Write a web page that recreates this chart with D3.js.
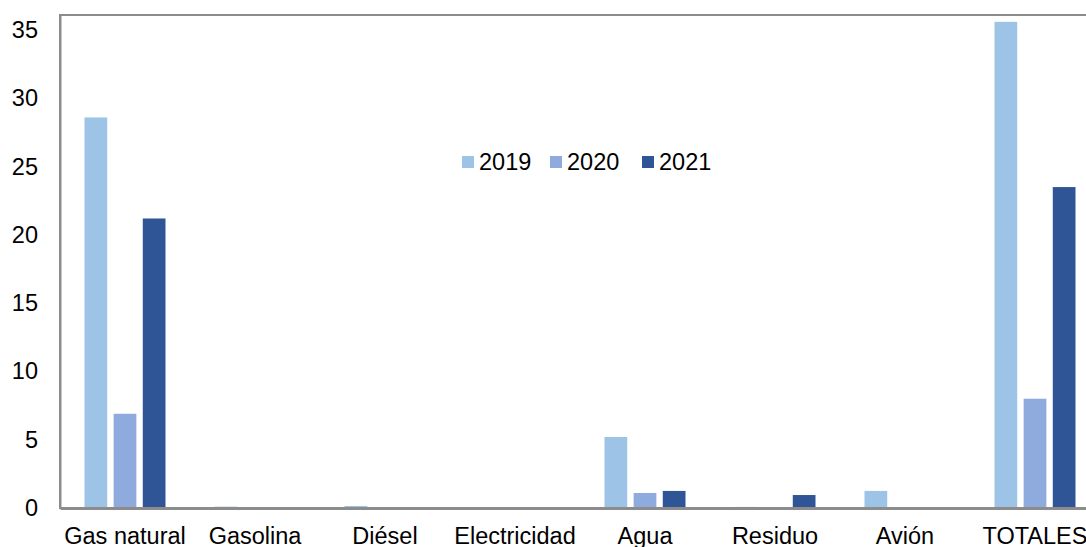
<!DOCTYPE html>
<html><head><meta charset="utf-8">
<script src="https://cdn.jsdelivr.net/npm/d3@7"></script>
<style>html,body{margin:0;padding:0;background:#fff;overflow:hidden}</style>
</head><body>
<svg id="chart" width="1086" height="547"></svg>
<script>
const categories = ["Gas natural","Gasolina","Diésel","Electricidad","Agua","Residuo","Avión","TOTALES"];
const seriesNames = ["2019","2020","2021"];
const values2019 = [28.6, 0.1, 0.15, 0, 5.2, 0.08, 1.25, 35.6];
const values2020 = [6.9, 0, 0, 0, 1.1, 0, 0, 8.0];
const values2021 = [21.2, 0, 0, 0, 1.25, 0.95, 0, 23.5];
const yTicks = [0,5,10,15,20,25,30,35];
const colors = ["#9DC3E6","#8FAADC","#2F5597"];

(function(){
const series = [values2019, values2020, values2021];
const svg = d3.select("#chart");
const mLeft = 60, mRight = 1100, mTop = 15, mBottom = 508;
const font = "Liberation Sans, Arial, sans-serif";
const fs = 23.5;

const x = d3.scaleBand().domain(categories).range([mLeft, mRight]).paddingInner(0).paddingOuter(0);
const xs = d3.scaleBand().domain(seriesNames).range([0, 81]).paddingInner(0.22).paddingOuter(0);
const y = d3.scaleLinear().domain([0, 36.1]).range([mBottom, mTop]);

seriesNames.forEach((s, si) => {
  svg.append("g").selectAll("rect").data(categories).join("rect")
    .attr("x", c => x(c) + (x.bandwidth() - 81) / 2 + xs(s))
    .attr("width", xs.bandwidth())
    .attr("y", (c, i) => y(series[si][i]))
    .attr("height", (c, i) => mBottom - y(series[si][i]))
    .attr("fill", colors[si]);
});

svg.append("rect").attr("x", mLeft).attr("y", mTop).attr("width", mRight - mLeft).attr("height", mBottom - mTop)
  .attr("fill", "none").attr("stroke", "#8c8c8c").attr("stroke-width", 2);

const yAxis = svg.append("g").attr("transform", `translate(${mLeft},0)`)
  .call(d3.axisLeft(y).tickValues(yTicks).tickSize(0).tickPadding(22));
yAxis.select(".domain").attr("stroke", "#8c8c8c").attr("stroke-width", 2);
yAxis.selectAll("text").attr("font-family", font).attr("font-size", fs).attr("fill", "#000");

const xAxis = svg.append("g").attr("transform", `translate(0,${mBottom})`)
  .call(d3.axisBottom(x).tickSize(0).tickPadding(19));
xAxis.select(".domain").attr("stroke", "#8c8c8c").attr("stroke-width", 3);
xAxis.selectAll("text").attr("font-family", font).attr("font-size", fs).attr("fill", "#000");

const legendX = [462, 550, 642];
const lg = svg.append("g");
seriesNames.forEach((s, i) => {
  lg.append("rect").attr("x", legendX[i]).attr("y", 156).attr("width", 12).attr("height", 12).attr("fill", colors[i]);
  lg.append("text").attr("x", legendX[i] + 17).attr("y", 170).text(s)
    .attr("font-family", font).attr("font-size", fs).attr("fill", "#000");
});
})();
</script>
</body></html>
